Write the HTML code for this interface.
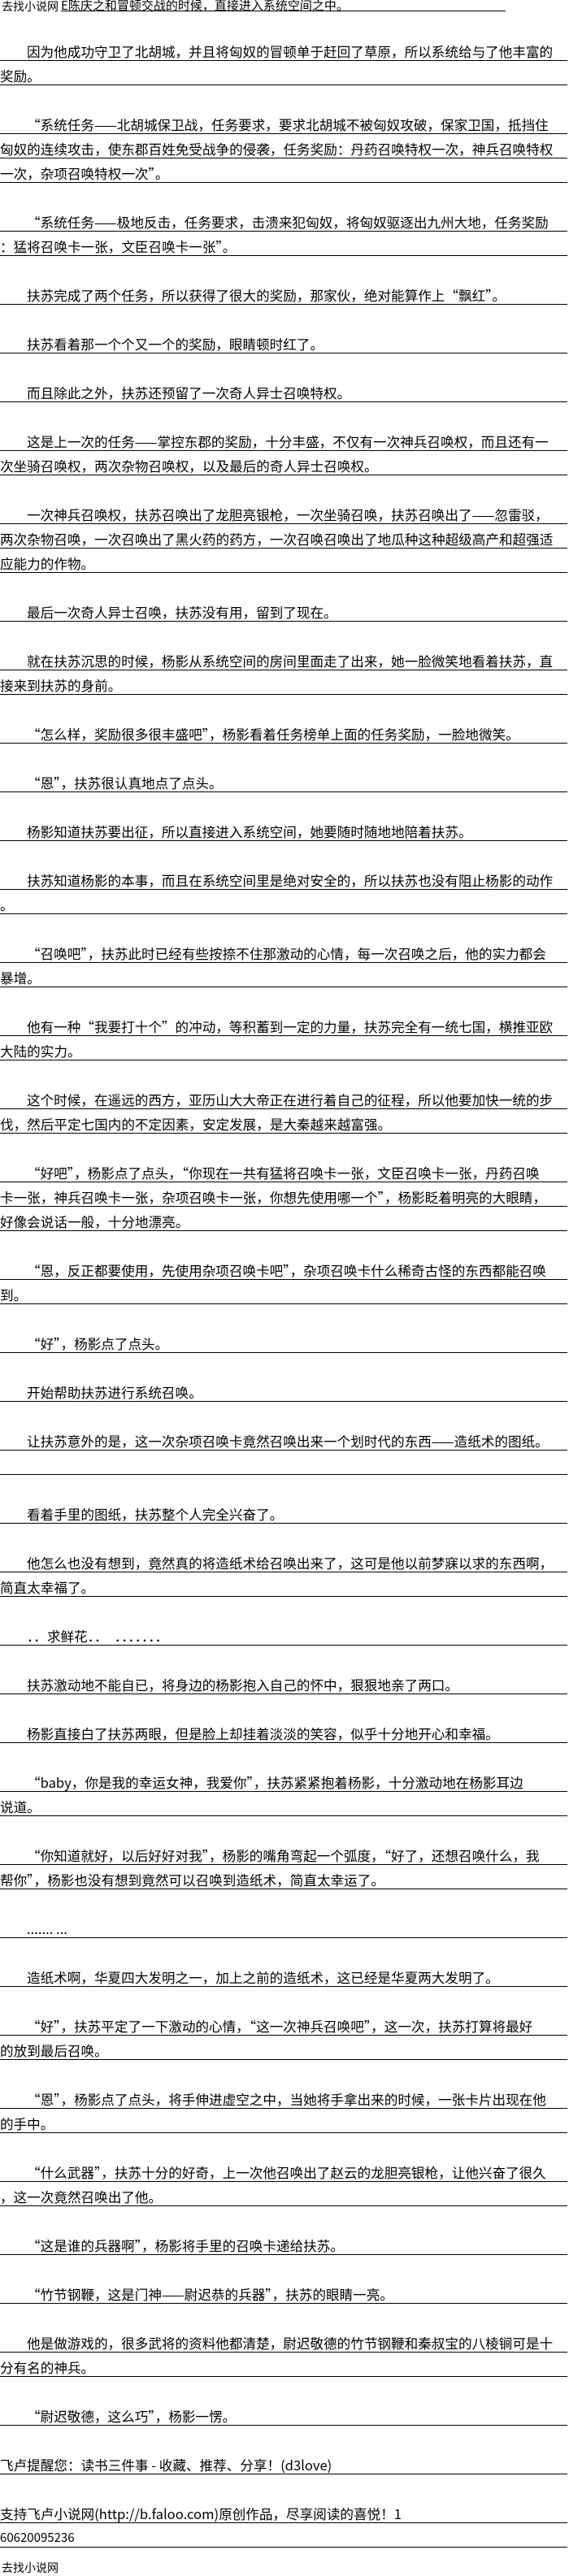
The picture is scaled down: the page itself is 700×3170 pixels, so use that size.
<!DOCTYPE html>
<html><head><meta charset="utf-8">
<style>
html,body{margin:0;padding:0;background:#fff;}
body{width:700px;height:3170px;position:relative;overflow:hidden;font-family:"Noto Sans CJK SC","WenQuanYi Zen Hei",sans-serif;color:#000;}
.l{position:absolute;left:0;width:698px;border-bottom:1px solid #000;white-space:nowrap;overflow:hidden;font-size:16.6px;line-height:20px;padding-top:8px;height:21px;}
.i{text-indent:33px;}
.s{position:absolute;font-size:14px;line-height:16px;white-space:nowrap;}
</style></head><body>
<div class="s" style="left:2px;top:0px;">去找小说网</div>
<div style="position:absolute;left:75px;width:547px;top:0;height:13px;border-bottom:1px solid #000;font-size:15px;line-height:14px;white-space:nowrap;overflow:hidden;">E陈庆之和冒顿交战的时候，直接进入系统空间之中。</div>

<div class="l i" style="top:45px">因为他成功守卫了北胡城，并且将匈奴的冒顿单于赶回了草原，所以系统给与了他丰富的</div>
<div class="l" style="top:75px">奖励。</div>

<div class="l i" style="top:135px">“系统任务——北胡城保卫战，任务要求，要求北胡城不被匈奴攻破，保家卫国，抵挡住</div>
<div class="l" style="top:165px">匈奴的连续攻击，使东郡百姓免受战争的侵袭，任务奖励：丹药召唤特权一次，神兵召唤特权</div>
<div class="l" style="top:195px">一次，杂项召唤特权一次”。</div>

<div class="l i" style="top:255px">“系统任务——极地反击，任务要求，击溃来犯匈奴，将匈奴驱逐出九州大地，任务奖励</div>
<div class="l" style="top:285px">：猛将召唤卡一张，文臣召唤卡一张”。</div>

<div class="l i" style="top:345px">扶苏完成了两个任务，所以获得了很大的奖励，那家伙，绝对能算作上“飘红”。</div>
<div class="l i" style="top:405px">扶苏看着那一个个又一个的奖励，眼睛顿时红了。</div>
<div class="l i" style="top:465px">而且除此之外，扶苏还预留了一次奇人异士召唤特权。</div>

<div class="l i" style="top:525px">这是上一次的任务——掌控东郡的奖励，十分丰盛，不仅有一次神兵召唤权，而且还有一</div>
<div class="l" style="top:555px">次坐骑召唤权，两次杂物召唤权，以及最后的奇人异士召唤权。</div>

<div class="l i" style="top:615px">一次神兵召唤权，扶苏召唤出了龙胆亮银枪，一次坐骑召唤，扶苏召唤出了——忽雷驳，</div>
<div class="l" style="top:645px">两次杂物召唤，一次召唤出了黑火药的药方，一次召唤召唤出了地瓜种这种超级高产和超强适</div>
<div class="l" style="top:675px">应能力的作物。</div>

<div class="l i" style="top:735px">最后一次奇人异士召唤，扶苏没有用，留到了现在。</div>

<div class="l i" style="top:795px">就在扶苏沉思的时候，杨影从系统空间的房间里面走了出来，她一脸微笑地看着扶苏，直</div>
<div class="l" style="top:825px">接来到扶苏的身前。</div>

<div class="l i" style="top:885px">“怎么样，奖励很多很丰盛吧”，杨影看着任务榜单上面的任务奖励，一脸地微笑。</div>
<div class="l i" style="top:945px">“恩”，扶苏很认真地点了点头。</div>
<div class="l i" style="top:1005px">杨影知道扶苏要出征，所以直接进入系统空间，她要随时随地地陪着扶苏。</div>

<div class="l i" style="top:1065px">扶苏知道杨影的本事，而且在系统空间里是绝对安全的，所以扶苏也没有阻止杨影的动作</div>
<div class="l" style="top:1095px">。</div>

<div class="l i" style="top:1155px">“召唤吧”，扶苏此时已经有些按捺不住那激动的心情，每一次召唤之后，他的实力都会</div>
<div class="l" style="top:1185px">暴增。</div>

<div class="l i" style="top:1245px">他有一种“我要打十个”的冲动，等积蓄到一定的力量，扶苏完全有一统七国，横推亚欧</div>
<div class="l" style="top:1275px">大陆的实力。</div>

<div class="l i" style="top:1335px">这个时候，在遥远的西方，亚历山大大帝正在进行着自己的征程，所以他要加快一统的步</div>
<div class="l" style="top:1365px">伐，然后平定七国内的不定因素，安定发展，是大秦越来越富强。</div>

<div class="l i" style="top:1425px">“好吧”，杨影点了点头，“你现在一共有猛将召唤卡一张，文臣召唤卡一张，丹药召唤</div>
<div class="l" style="top:1455px">卡一张，神兵召唤卡一张，杂项召唤卡一张，你想先使用哪一个”，杨影眨着明亮的大眼睛，</div>
<div class="l" style="top:1485px">好像会说话一般，十分地漂亮。</div>

<div class="l i" style="top:1545px">“恩，反正都要使用，先使用杂项召唤卡吧”，杂项召唤卡什么稀奇古怪的东西都能召唤</div>
<div class="l" style="top:1575px">到。</div>

<div class="l i" style="top:1635px">“好”，杨影点了点头。</div>
<div class="l i" style="top:1695px">开始帮助扶苏进行系统召唤。</div>
<div class="l i" style="top:1755px">让扶苏意外的是，这一次杂项召唤卡竟然召唤出来一个划时代的东西——造纸术的图纸。</div>
<div class="l" style="top:1785px"></div>

<div class="l i" style="top:1845px">看着手里的图纸，扶苏整个人完全兴奋了。</div>

<div class="l i" style="top:1905px">他怎么也没有想到，竟然真的将造纸术给召唤出来了，这可是他以前梦寐以求的东西啊，</div>
<div class="l" style="top:1935px">简直太幸福了。</div>

<div class="l i" style="top:1995px">．．求鲜花．．　．．．．．．．</div>
<div class="l i" style="top:2055px">扶苏激动地不能自已，将身边的杨影抱入自己的怀中，狠狠地亲了两口。</div>
<div class="l i" style="top:2115px">杨影直接白了扶苏两眼，但是脸上却挂着淡淡的笑容，似乎十分地开心和幸福。</div>

<div class="l i" style="top:2175px">“baby，你是我的幸运女神，我爱你”，扶苏紧紧抱着杨影，十分激动地在杨影耳边</div>
<div class="l" style="top:2205px">说道。</div>

<div class="l i" style="top:2265px">“你知道就好，以后好好对我”，杨影的嘴角弯起一个弧度，“好了，还想召唤什么，我</div>
<div class="l" style="top:2295px">帮你”，杨影也没有想到竟然可以召唤到造纸术，简直太幸运了。</div>

<div class="l i" style="top:2355px">.......&nbsp;...</div>
<div class="l i" style="top:2415px">造纸术啊，华夏四大发明之一，加上之前的造纸术，这已经是华夏两大发明了。</div>

<div class="l i" style="top:2475px">“好”，扶苏平定了一下激动的心情，“这一次神兵召唤吧”，这一次，扶苏打算将最好</div>
<div class="l" style="top:2505px">的放到最后召唤。</div>

<div class="l i" style="top:2565px">“恩”，杨影点了点头，将手伸进虚空之中，当她将手拿出来的时候，一张卡片出现在他</div>
<div class="l" style="top:2595px">的手中。</div>

<div class="l i" style="top:2655px">“什么武器”，扶苏十分的好奇，上一次他召唤出了赵云的龙胆亮银枪，让他兴奋了很久</div>
<div class="l" style="top:2685px">，这一次竟然召唤出了他。</div>

<div class="l i" style="top:2745px">“这是谁的兵器啊”，杨影将手里的召唤卡递给扶苏。</div>
<div class="l i" style="top:2805px">“竹节钢鞭，这是门神——尉迟恭的兵器”，扶苏的眼睛一亮。</div>

<div class="l i" style="top:2865px">他是做游戏的，很多武将的资料他都清楚，尉迟敬德的竹节钢鞭和秦叔宝的八棱锏可是十</div>
<div class="l" style="top:2895px">分有名的神兵。</div>

<div class="l i" style="top:2955px">“尉迟敬德，这么巧”，杨影一愣。</div>

<div class="l" style="top:3015px">飞卢提醒您：读书三件事 - 收藏、推荐、分享！(d3love)</div>
<div class="l" style="top:3075px">支持飞卢小说网(http://b.faloo.com)原创作品，尽享阅读的喜悦！1</div>
<div class="l" style="top:3105px;font-size:15px;">60620095236</div>
<div class="s" style="left:2px;top:3152px;">去找小说网</div>
</body></html>
